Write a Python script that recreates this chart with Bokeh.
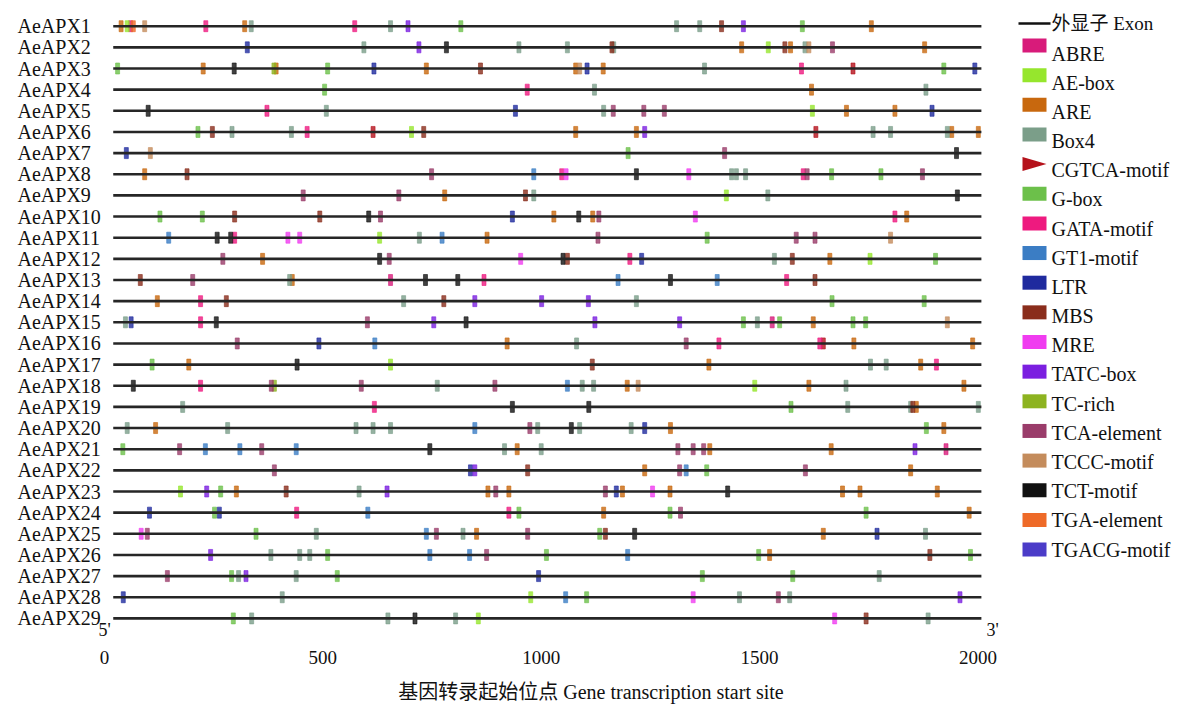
import math
from bokeh.plotting import figure
from bokeh.models import Range1d, FixedTicker
from bokeh.embed import file_html
from bokeh.resources import INLINE
from bokeh.core.properties import value

# ---------------- data ----------------
genes = ["AeAPX%d" % i for i in range(1, 30)]
gene_start = 20
gene_end = 2008
x_ticks = [0, 500, 1000, 1500, 2000]
x_title = "基因转录起始位点 Gene transcription start site"

motif_names = ["ABRE", "AE-box", "ARE", "Box4", "CGTCA-motif", "G-box", "GATA-motif",
               "GT1-motif", "LTR", "MBS", "MRE", "TATC-box", "TC-rich", "TCA-element",
               "TCCC-motif", "TCT-motif", "TGA-element", "TGACG-motif"]
motif_colors = ["#D81B7A", "#96E62D", "#C8680E", "#7B9E89", "#B5121B", "#6CC04A", "#EE1A7F",
                "#3B7DC4", "#1F2A9E", "#8A2D1C", "#F03CF0", "#7B1FE0", "#8DB320", "#9A3C6A",
                "#C48C5C", "#111111", "#EE6A28", "#4B3CC8"]

apx01 = [(38, "ARE"), (52, "AE-box"), (60, "ABRE"), (66, "TGA-element"), (92, "TCCC-motif"),
         (232, "GATA-motif"), (321, "ARE"), (336, "Box4"), (573, "GATA-motif"), (655, "Box4"),
         (695, "TATC-box"), (816, "G-box"), (1310, "Box4"), (1363, "Box4"), (1413, "MBS"),
         (1463, "TATC-box"), (1598, "G-box"), (1756, "ARE")]
apx02 = [(327, "LTR"), (594, "Box4"), (720, "TATC-box"), (783, "TCT-motif"), (949, "Box4"),
         (1060, "Box4"), (1162, "MBS"), (1166, "Box4"), (1459, "ARE"), (1520, "AE-box"),
         (1558, "MBS"), (1571, "ARE"), (1604, "Box4"), (1613, "TCCC-motif"), (1667, "TCA-element"),
         (1878, "ARE")]
apx03 = [(30, "G-box"), (226, "ARE"), (297, "TCT-motif"), (388, "TC-rich"), (393, "ARE"),
         (511, "G-box"), (617, "LTR"), (737, "ARE"), (861, "MBS"), (1079, "ARE"),
         (1088, "TCCC-motif"), (1105, "LTR"), (1142, "ARE"), (1374, "Box4"), (1596, "GATA-motif"),
         (1714, "CGTCA-motif"), (1922, "G-box"), (1993, "LTR")]
apx04 = [(504, "G-box"), (968, "GATA-motif"), (1122, "Box4"), (1619, "ARE"), (1881, "Box4")]
apx05 = [(100, "TCT-motif"), (372, "GATA-motif"), (508, "Box4"), (941, "LTR"), (1143, "Box4"),
         (1165, "TCA-element"), (1235, "TCA-element"), (1282, "TCA-element"), (1621, "AE-box"),
         (1699, "ARE"), (1810, "ARE"), (1895, "LTR")]
apx06 = [(214, "G-box"), (247, "MBS"), (292, "Box4"), (428, "Box4"), (464, "GATA-motif"),
         (615, "CGTCA-motif"), (703, "AE-box"), (731, "MBS"), (1079, "ARE"), (1218, "ARE"),
         (1237, "TATC-box"), (1629, "CGTCA-motif"), (1760, "Box4"), (1800, "Box4"), (1930, "Box4"),
         (1940, "ARE"), (2001, "ARE")]
apx07 = [(50, "LTR"), (105, "TCCC-motif"), (1199, "G-box"), (1420, "TCA-element"), (1951, "TCT-motif")]
apx08 = [(92, "ARE"), (189, "MBS"), (749, "TCA-element"), (983, "GT1-motif"), (1047, "GATA-motif"),
         (1057, "MRE"), (1218, "TCT-motif"), (1338, "MRE"), (1436, "Box4"), (1447, "Box4"),
         (1468, "Box4"), (1600, "GATA-motif"), (1609, "TCA-element"), (1665, "G-box"),
         (1778, "G-box"), (1873, "TCA-element")]
apx09 = [(455, "TCA-element"), (674, "TCA-element"), (779, "ARE"), (964, "MBS"), (983, "Box4"),
         (1424, "AE-box"), (1519, "Box4"), (1953, "TCT-motif")]
apx10 = [(127, "G-box"), (224, "G-box"), (298, "MBS"), (493, "MBS"), (605, "TCT-motif"),
         (632, "TCA-element"), (934, "LTR"), (1029, "ARE"), (1086, "TCT-motif"), (1118, "ARE"),
         (1132, "TCA-element"), (1353, "MRE"), (1810, "GATA-motif"), (1837, "ARE")]
apx11 = [(147, "GT1-motif"), (258, "TCT-motif"), (289, "TCT-motif"), (298, "GATA-motif"),
         (420, "MRE"), (447, "MRE"), (630, "AE-box"), (721, "Box4"), (773, "GT1-motif"),
         (876, "ARE"), (1130, "TCA-element"), (1380, "G-box"), (1584, "TCA-element"),
         (1627, "TCA-element"), (1800, "TCCC-motif")]
apx12 = [(271, "TCA-element"), (362, "ARE"), (630, "TCT-motif"), (652, "TCA-element"),
         (953, "MRE"), (1050, "TCT-motif"), (1060, "MBS"), (1203, "GATA-motif"), (1230, "LTR"),
         (1534, "Box4"), (1575, "MBS"), (1661, "ARE"), (1753, "AE-box"), (1903, "G-box")]
apx13 = [(82, "MBS"), (202, "TCA-element"), (424, "Box4"), (430, "ARE"), (655, "ABRE"),
         (735, "TCT-motif"), (809, "TCT-motif"), (869, "GATA-motif"), (1176, "GT1-motif"),
         (1296, "TCT-motif"), (1403, "GT1-motif"), (1562, "GATA-motif"), (1627, "MBS")]
apx14 = [(121, "ARE"), (220, "GATA-motif"), (279, "MBS"), (685, "Box4"), (777, "MBS"),
         (848, "TATC-box"), (1001, "TATC-box"), (1108, "TATC-box"), (1218, "Box4"),
         (1666, "G-box"), (1877, "G-box")]
apx15 = [(48, "Box4"), (61, "LTR"), (220, "GATA-motif"), (256, "TCT-motif"), (602, "TCA-element"),
         (754, "TATC-box"), (828, "TCT-motif"), (1123, "TATC-box"), (1317, "TATC-box"),
         (1463, "G-box"), (1495, "Box4"), (1529, "ABRE"), (1546, "G-box"), (1623, "ARE"),
         (1714, "G-box"), (1743, "G-box"), (1930, "TCCC-motif")]
apx16 = [(304, "TCA-element"), (491, "LTR"), (619, "GT1-motif"), (922, "ARE"), (1081, "Box4"),
         (1332, "TCA-element"), (1407, "GATA-motif"), (1638, "GATA-motif"), (1646, "CGTCA-motif"),
         (1716, "ARE"), (1988, "ARE")]
apx17 = [(109, "G-box"), (193, "ARE"), (441, "TCT-motif"), (655, "AE-box"), (1117, "MBS"),
         (1384, "ARE"), (1754, "Box4"), (1790, "Box4"), (1869, "ARE"), (1905, "GATA-motif")]
apx18 = [(66, "TCT-motif"), (220, "GATA-motif"), (382, "TCA-element"), (389, "TC-rich"),
         (588, "TCA-element"), (762, "Box4"), (894, "TCA-element"), (1060, "GT1-motif"),
         (1094, "Box4"), (1120, "Box4"), (1197, "ARE"), (1222, "TCCC-motif"), (1489, "AE-box"),
         (1613, "ARE"), (1698, "Box4"), (1968, "ARE")]
apx19 = [(179, "Box4"), (618, "GATA-motif"), (934, "TCT-motif"), (1109, "TCT-motif"),
         (1572, "G-box"), (1702, "Box4"), (1846, "Box4"), (1851, "MBS"), (1859, "ARE"),
         (2001, "Box4")]
apx20 = [(52, "Box4"), (117, "ARE"), (282, "Box4"), (576, "Box4"), (615, "Box4"), (655, "Box4"),
         (848, "GT1-motif"), (974, "TCA-element"), (992, "Box4"), (1069, "TCT-motif"),
         (1088, "Box4"), (1206, "Box4"), (1237, "LTR"), (1296, "ARE"), (1882, "G-box"),
         (1922, "ARE")]
apx21 = [(42, "G-box"), (172, "TCA-element"), (231, "GT1-motif"), (310, "GT1-motif"),
         (360, "TCA-element"), (439, "GT1-motif"), (745, "TCT-motif"), (916, "Box4"),
         (945, "ARE"), (1000, "Box4"), (1313, "TCA-element"), (1348, "TCA-element"),
         (1372, "TCA-element"), (1386, "ARE"), (1664, "ARE"), (1856, "TATC-box"), (1927, "ABRE")]
apx22 = [(389, "TCA-element"), (838, "LTR"), (848, "TATC-box"), (969, "MBS"), (1237, "ARE"),
         (1317, "TCA-element"), (1332, "GT1-motif"), (1379, "G-box"), (1605, "TCA-element"),
         (1846, "ARE")]
apx23 = [(174, "AE-box"), (234, "TATC-box"), (266, "G-box"), (302, "ARE"), (416, "MBS"),
         (583, "Box4"), (647, "TATC-box"), (878, "ARE"), (896, "TCA-element"), (926, "ARE"),
         (1147, "TCA-element"), (1172, "LTR"), (1186, "ARE"), (1255, "MRE"), (1295, "ARE"),
         (1427, "TCT-motif"), (1690, "ARE"), (1730, "ARE"), (1907, "ARE")]
apx24 = [(103, "LTR"), (252, "G-box"), (263, "LTR"), (440, "GATA-motif"), (603, "GT1-motif"),
         (926, "GATA-motif"), (949, "G-box"), (1143, "ARE"), (1295, "G-box"), (1319, "TCA-element"),
         (1744, "G-box"), (1980, "ARE")]
apx25 = [(84, "MRE"), (98, "TCA-element"), (347, "G-box"), (485, "Box4"), (737, "GT1-motif"),
         (760, "TCA-element"), (821, "Box4"), (852, "ARE"), (969, "TCA-element"), (1134, "G-box"),
         (1147, "MBS"), (1214, "TCT-motif"), (1646, "ARE"), (1769, "LTR"), (1880, "Box4")]
apx26 = [(243, "TATC-box"), (381, "Box4"), (447, "Box4"), (470, "Box4"), (511, "G-box"),
         (745, "GT1-motif"), (836, "GT1-motif"), (875, "TCA-element"), (1012, "G-box"),
         (1198, "GT1-motif"), (1498, "G-box"), (1523, "ARE"), (1890, "MBS"), (1983, "G-box")]
apx27 = [(144, "TCA-element"), (291, "G-box"), (307, "Box4"), (324, "TATC-box"), (439, "Box4"),
         (533, "G-box"), (994, "LTR"), (1369, "G-box"), (1576, "G-box"), (1774, "Box4")]
apx28 = [(43, "LTR"), (407, "Box4"), (976, "AE-box"), (1056, "GT1-motif"), (1104, "G-box"),
         (1348, "MRE"), (1454, "Box4"), (1543, "TCA-element"), (1569, "Box4"), (1959, "TATC-box")]
apx29 = [(295, "G-box"), (337, "Box4"), (649, "Box4"), (711, "TCT-motif"), (804, "Box4"),
         (856, "AE-box"), (1672, "MRE"), (1744, "MBS"), (1886, "Box4")]

gene_elements = [apx01, apx02, apx03, apx04, apx05, apx06, apx07, apx08, apx09, apx10,
                 apx11, apx12, apx13, apx14, apx15, apx16, apx17, apx18, apx19, apx20,
                 apx21, apx22, apx23, apx24, apx25, apx26, apx27, apx28, apx29]

# ---------------- layout helpers ----------------
W, H = 1181, 708
PX_PER_BP = 0.4367
X0_PX = 104            # pixel of position 0
ROW1_PX = 25.7
ROW_STEP = 21.15
FRAME_BOTTOM = 636


def px2x(px):
    return (px - X0_PX) / PX_PER_BP


def px2y(py):
    return 1 + (py - ROW1_PX) / ROW_STEP


serif = "'Liberation Serif', 'Noto Sans CJK SC'"

p = figure(width=W, height=H, output_backend="svg", toolbar_location=None, title=None,
           x_range=Range1d(px2x(0), px2x(W)),
           y_range=Range1d(px2y(FRAME_BOTTOM), px2y(0)),
           y_axis_location=None, min_border_left=0, min_border_right=0,
           min_border_top=0, min_border_bottom=H - FRAME_BOTTOM)
p.outline_line_color = None
p.xgrid.grid_line_color = None
p.ygrid.grid_line_color = None

rows = list(range(1, len(genes) + 1))

# motif marks
for name, color in zip(motif_names, motif_colors):
    xs, ys = [], []
    for r, elems in zip(rows, gene_elements):
        for pos, m in elems:
            if m == name:
                xs.append(pos)
                ys.append(r)
    if xs:
        p.rect(x=xs, y=ys, width=4, height=11, width_units="screen", height_units="screen",
               fill_color=color, fill_alpha=0.8, line_color=color, line_width=0.6)

# gene lines (exon)
p.segment(x0=[gene_start] * len(rows), x1=[gene_end] * len(rows), y0=rows, y1=rows,
          line_color="#262626", line_width=2.6)

# gene labels
p.text(x=[px2x(17)] * len(rows), y=rows, text=genes, text_font=value(serif),
       text_font_size="20px", text_align="left", text_baseline="middle", text_color="#111111")

# 5' / 3'
p.text(x=[px2x(104), px2x(992)], y=[px2y(629)] * 2, text=["5'", "3'"], text_font=value(serif),
       text_font_size="18px", text_align="center", text_baseline="middle", text_color="#111111")

# legend
p.segment(x0=[px2x(1018)], x1=[px2x(1050)], y0=[px2y(23)], y1=[px2y(23)],
          line_color="#111111", line_width=2.5)
p.text(x=[px2x(1051)], y=[px2y(23)], text=["外显子 Exon"], text_font=value(serif),
       text_font_size="19px", text_align="left", text_baseline="middle", text_color="#111111")
sw_y = [px2y(45 + k * 29.65) for k in range(len(motif_names))]
tx_y = [px2y(53 + k * 29.18) for k in range(len(motif_names))]
rect_idx = [k for k, n in enumerate(motif_names) if n != "CGTCA-motif"]
p.rect(x=[px2x(1034)] * len(rect_idx), y=[sw_y[k] for k in rect_idx], width=24, height=14,
       width_units="screen", height_units="screen",
       fill_color=[motif_colors[k] for k in rect_idx], line_color=None)
k = motif_names.index("CGTCA-motif")
p.patch(x=[px2x(1022), px2x(1046), px2x(1022)],
        y=[sw_y[k] - 7 / ROW_STEP, sw_y[k], sw_y[k] + 7 / ROW_STEP],
        fill_color=motif_colors[k], line_color=None)
p.text(x=[px2x(1051)] * len(motif_names), y=tx_y, text=motif_names, text_font=value(serif),
       text_font_size="20px", text_align="left", text_baseline="middle", text_color="#111111")

# x axis
ax = p.xaxis[0]
ax.ticker = FixedTicker(ticks=x_ticks)
ax.axis_line_color = None
ax.major_tick_line_color = None
ax.minor_tick_line_color = None
ax.major_tick_out = 0
ax.major_tick_in = 0
ax.major_label_standoff = 14
ax.major_label_text_font = serif
ax.major_label_text_font_size = "19px"
ax.major_label_text_color = "#111111"
ax.axis_label = x_title
ax.axis_label_text_font = serif
ax.axis_label_text_font_size = "20px"
ax.axis_label_text_font_style = "normal"
ax.axis_label_text_color = "#111111"
ax.axis_label_standoff = 14

open("out.html", "w").write(file_html(p, INLINE))
